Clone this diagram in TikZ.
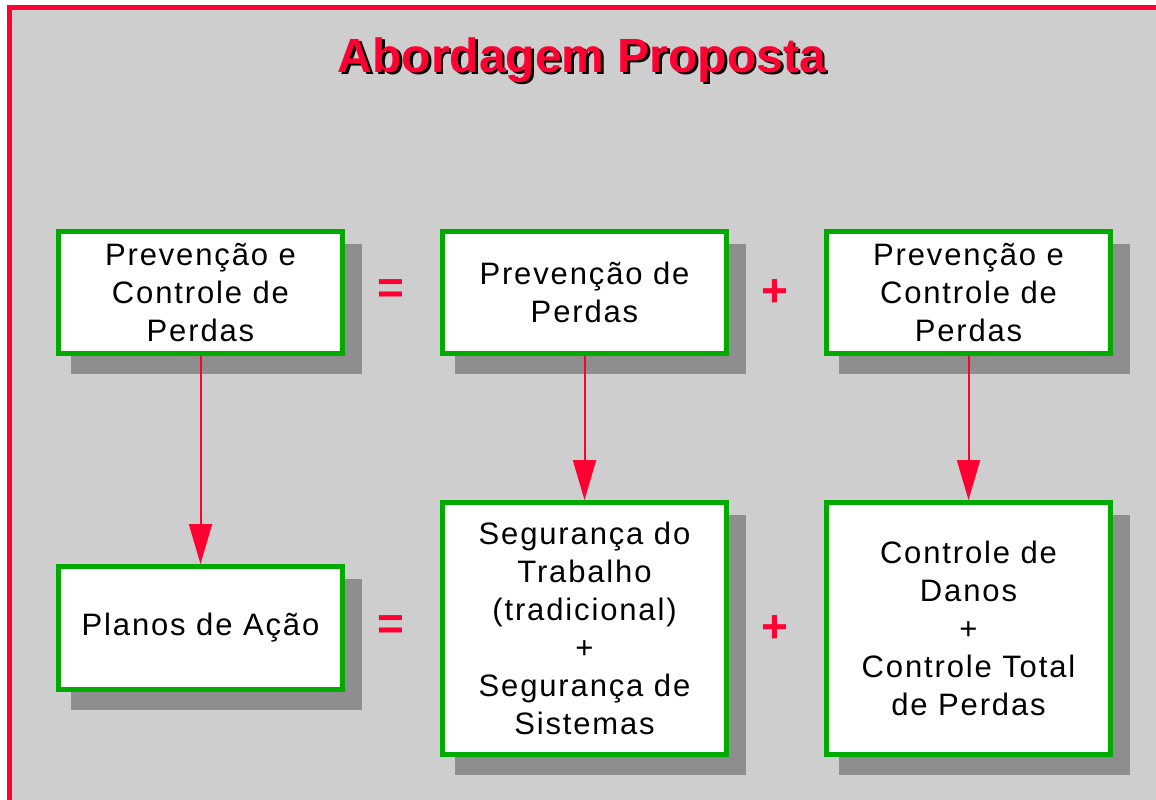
\documentclass[tikz,border=0pt]{standalone}
\usepackage{fontspec}
\setmainfont{Liberation Sans}
\usetikzlibrary{arrows.meta,backgrounds}

\definecolor{ppred}{RGB}{255,0,51}
\definecolor{ppgreen}{RGB}{0,170,0}
\definecolor{ppgray}{RGB}{206,206,206}
\definecolor{ppshadow}{RGB}{142,142,142}

\tikzset{
  caixa/.style={draw=ppgreen, line width=5pt, fill=white, align=center, inner sep=0pt,
    minimum width=284pt, font=\fontsize{31}{38}\selectfont\addfontfeature{LetterSpace=6}},
  sinal/.style={text=ppred, font=\fontsize{46}{46}\selectfont\bfseries},
  titulo/.style={font=\fontsize{48}{48}\selectfont\bfseries},
  seta/.style={ppred, line width=2pt, -{Triangle[width=23pt,length=40pt]}},
}

\begin{document}
\begin{tikzpicture}[x=1pt, y=-1pt]

  \useasboundingbox (0,0) rectangle (1156,800);

  % Fundo
  \begin{pgfonlayer}{background}
    \fill[white] (0,0) rectangle (1156,800);
    \fill[ppgray] (12,10) rectangle (1156,800);
    \draw[ppred, line width=5pt] (9.5,800) -- (9.5,7.5) -- (1156,7.5);
  \end{pgfonlayer}

  % Titulo
  \draw (584.5,62.5) node[titulo, text=black] (tituloshadow) {Abordagem Proposta};
  \draw (582,60) node[titulo, text=ppred] (titulo) {Abordagem Proposta};

  % Linha de cima
  \draw (200.5,292.5) node[caixa, minimum height=122pt] (prevA) {Prevenção e\\Controle de\\Perdas};
  \draw (584.5,292.5) node[caixa, minimum height=122pt] (prevB) {Prevenção de\\Perdas};
  \draw (968.5,292.5) node[caixa, minimum height=122pt] (prevC) {Prevenção e\\Controle de\\Perdas};
  \draw (391,292) node[sinal] (igualA) {=};
  \draw (775,293) node[sinal] (maisA) {+};

  % Linha de baixo
  \draw (200.5,628) node[caixa, minimum height=123pt] (planos) {Planos de Ação};
  \draw (584.5,628.5) node[caixa, minimum height=252pt] (seguranca) {Segurança do\\Trabalho\\(tradicional)\\+\\Segurança de\\Sistemas};
  \draw (968.5,628.5) node[caixa, minimum height=252pt] (danos) {Controle de\\Danos\\+\\Controle Total\\de Perdas};
  \draw (391,628) node[sinal] (igualB) {=};
  \draw (775,629) node[sinal] (maisB) {+};

  % Sombras
  \begin{pgfonlayer}{background}
    \foreach \caixa in {prevA,prevB,prevC,planos,seguranca,danos}
      \fill[ppshadow] ([shift={(15,15)}]\caixa.north west) rectangle ([shift={(17,18)}]\caixa.south east);
  \end{pgfonlayer}

  % Setas
  \draw[seta] (prevA) -- (planos);
  \draw[seta] (prevB) -- (seguranca);
  \draw[seta] (prevC) -- (danos);

\end{tikzpicture}
\end{document}
